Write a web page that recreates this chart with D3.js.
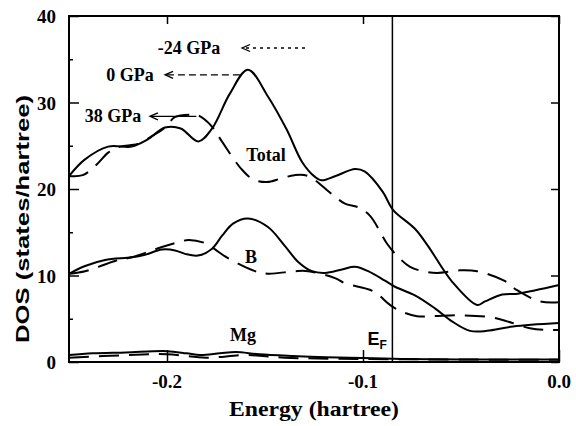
<!DOCTYPE html>
<html>
<head>
<meta charset="utf-8">
<script src="https://cdn.jsdelivr.net/npm/d3@7"></script>
<style>
  html, body { margin: 0; padding: 0; background: #fff; }
  svg { display: block; }
  .tick-label { font-family: "Liberation Serif", serif; font-weight: bold; font-size: 19px; }
  .xtitle { font-family: "Liberation Serif", serif; font-weight: bold; font-size: 20px; }
  .note { font-family: "Liberation Serif", serif; font-weight: bold; font-size: 18px; }
  .ytitle { font-family: "Liberation Sans", Arial, sans-serif; font-weight: bold; font-size: 19px; }
</style>
</head>
<body>
<svg id="chart" width="576" height="426"></svg>
<script>
// Density of states of MgB2 near the Fermi level (energy in hartree)
const totalSolid = [[-0.25,21.5],[-0.242,23.4],[-0.23,24.9],[-0.218,24.9],[-0.21,25.7],[-0.201,27.1],[-0.193,27.0],[-0.184,25.5],[-0.177,27.0],[-0.168,31.0],[-0.1587,33.8],[-0.1485,30.7],[-0.139,26.9],[-0.131,23.1],[-0.1245,21.4],[-0.121,21.0],[-0.114,21.5],[-0.104,22.3],[-0.099,22.0],[-0.090,19.7],[-0.0847,17.6],[-0.0735,15.4],[-0.0668,13.4],[-0.0546,9.3],[-0.0418,6.6],[-0.0378,7.0],[-0.029,7.8],[-0.021,7.9],[-0.012,8.3],[0,8.9]];
const totalDashed = [[-0.25,21.5],[-0.243,21.6],[-0.236,22.8],[-0.23,24.2],[-0.224,24.9],[-0.215,25.2],[-0.207,26.2],[-0.201,27.1],[-0.196,28.3],[-0.188,28.6],[-0.184,28.5],[-0.177,27.2],[-0.172,25.5],[-0.162,22.3],[-0.156,21.1],[-0.149,20.8],[-0.142,21.2],[-0.135,21.6],[-0.128,21.5],[-0.1158,19.4],[-0.1092,18.3],[-0.1026,17.9],[-0.0964,16.9],[-0.0878,13.7],[-0.0827,12.3],[-0.076,11.0],[-0.0694,10.5],[-0.0622,10.3],[-0.0505,10.6],[-0.0418,10.5],[-0.028,9.4],[-0.0214,8.3],[-0.0097,7.0],[0,6.9]];
const bSolid = [[-0.25,10.2],[-0.2418,11.1],[-0.2316,11.8],[-0.2179,12.1],[-0.2112,12.4],[-0.2026,13.0],[-0.1959,12.9],[-0.1908,12.5],[-0.1842,12.3],[-0.177,13.1],[-0.1719,14.6],[-0.1663,16.0],[-0.1587,16.6],[-0.1485,15.6],[-0.1398,13.4],[-0.1332,11.6],[-0.126,10.5],[-0.1194,10.3],[-0.1107,10.7],[-0.1041,11.0],[-0.0974,10.5],[-0.0888,9.4],[-0.0837,8.7],[-0.0735,7.7],[-0.0633,6.2],[-0.0546,4.7],[-0.0454,3.6],[-0.0367,3.6],[-0.0235,4.1],[0,4.5]];
const bDashed = [[-0.25,10.2],[-0.2418,10.5],[-0.235,11.0],[-0.225,11.8],[-0.218,12.1],[-0.2026,13.3],[-0.195,13.8],[-0.189,14.1],[-0.18,13.7],[-0.176,13.1],[-0.1689,12.0],[-0.1551,10.5],[-0.1485,10.2],[-0.1347,10.5],[-0.128,10.5],[-0.1143,9.7],[-0.1092,9.1],[-0.0949,8.2],[-0.0862,6.6],[-0.0811,5.9],[-0.0724,5.3],[-0.0643,5.3],[-0.052,5.4],[-0.0352,5.2],[-0.0265,4.7],[-0.0148,3.9],[-0.0061,3.7],[0,3.7]];
const mgSolid = [[-0.25,0.8],[-0.238,1.0],[-0.221,1.1],[-0.2,1.25],[-0.19,1.0],[-0.183,0.8],[-0.173,1.0],[-0.165,1.15],[-0.153,0.9],[-0.136,0.7],[-0.119,0.55],[-0.1,0.45],[-0.08,0.35],[-0.05,0.3],[0,0.3]];
const mgDashed = [[-0.25,0.5],[-0.22,0.8],[-0.2,0.9],[-0.18,0.5],[-0.16,0.8],[-0.14,0.5],[-0.1,0.35],[0,0.25]];
const fermiEnergy = -0.085;
const xTicks = [-0.2, -0.1, 0.0];
const xTickLabels = ["-0.2", "-0.1", "0.0"];
const yTicks = [0, 10, 20, 30, 40];
const yTickLabels = ["0", "10", "20", "30", "40"];
const curveLabels = [
  { text: "Total", e: -0.1495, v: 23.2 },
  { text: "B", e: -0.1571, v: 11.4 },
  { text: "Mg", e: -0.1612, v: 2.4 }
];
const pressureLabels = [
  { text: "-24 GPa", e: -0.1888, v: 36.3, from: -0.1296, to: -0.1617, dash: "3,4" },
  { text: "0 GPa", e: -0.2189, v: 33.2, from: -0.1628, to: -0.201, dash: "7,4" },
  { text: "38 GPa", e: -0.2276, v: 28.4, from: -0.185, to: -0.2087, dash: null }
];

const svg = d3.select("#chart");
const margin = { left: 69, right: 17, top: 16, bottom: 64 };
const W = 576, H = 426;
const x = d3.scaleLinear().domain([-0.25, 0]).range([margin.left, W - margin.right]);
const y = d3.scaleLinear().domain([0, 40]).range([H - margin.bottom, margin.top]);

const line = d3.line().x(d => x(d[0])).y(d => y(d[1])).curve(d3.curveCatmullRom.alpha(0.5));

// frame
svg.append("rect")
  .attr("x", x(-0.25)).attr("y", y(40))
  .attr("width", x(0) - x(-0.25)).attr("height", y(0) - y(40))
  .attr("fill", "none").attr("stroke", "#000").attr("stroke-width", 2);

// axes with inward ticks
const axB = d3.axisBottom(x).tickValues(xTicks).tickSize(-12).tickFormat(() => "");
const axT = d3.axisTop(x).tickValues(xTicks).tickSize(-8).tickFormat(() => "");
const axL = d3.axisLeft(y).tickValues(yTicks).tickSize(-10).tickFormat(() => "");
const axR = d3.axisRight(y).tickValues(yTicks).tickSize(-8).tickFormat(() => "");
const axLm = d3.axisLeft(y).tickValues(d3.range(0, 41, 5).filter(v => v % 10)).tickSize(-4).tickFormat(() => "");
[[axB, `translate(0,${y(0)})`], [axT, `translate(0,${y(40)})`], [axL, `translate(${x(-0.25)},0)`],
 [axR, `translate(${x(0)},0)`], [axLm, `translate(${x(-0.25)},0)`]].forEach(([ax, t]) => {
  const g = svg.append("g").attr("transform", t).call(ax);
  g.select(".domain").remove();
  g.selectAll("line").attr("stroke", "#000").attr("stroke-width", 1.5);
});

// tick labels
svg.append("g").selectAll("text").data(xTicks).join("text")
  .attr("class", "tick-label").attr("x", d => x(d)).attr("y", y(0) + 26)
  .attr("text-anchor", "middle").text((d, i) => xTickLabels[i]);
svg.append("g").selectAll("text").data(yTicks).join("text")
  .attr("class", "tick-label").attr("x", x(-0.25) - 13).attr("y", d => y(d) + 7)
  .attr("text-anchor", "end").text((d, i) => yTickLabels[i]);

// axis titles
svg.append("text").attr("class", "xtitle").attr("x", 314).attr("y", 416)
  .attr("text-anchor", "middle")
  .attr("textLength", 170).attr("lengthAdjust", "spacingAndGlyphs")
  .text("Energy  (hartree)");
svg.append("text").attr("class", "ytitle")
  .attr("transform", `translate(29,${219}) rotate(-90)`)
  .attr("text-anchor", "middle")
  .attr("textLength", 248).attr("lengthAdjust", "spacingAndGlyphs")
  .text("DOS  (states/hartree)");

// Fermi level
svg.append("line").attr("x1", x(fermiEnergy)).attr("x2", x(fermiEnergy))
  .attr("y1", y(40)).attr("y2", y(0)).attr("stroke", "#000").attr("stroke-width", 1.5);
const ef = svg.append("text").attr("x", x(fermiEnergy) - 25).attr("y", y(0) - 17)
  .attr("font-family", "Liberation Sans, Arial, sans-serif").attr("font-weight", "bold").attr("font-size", 18);
ef.append("tspan").text("E");
ef.append("tspan").attr("font-size", 12).attr("dy", 4).text("F");

// curves
const series = [
  [totalSolid, null], [totalDashed, "20,10"],
  [bSolid, null], [bDashed, "20,10"],
  [mgSolid, null], [mgDashed, "20,10"]
];
svg.append("g").selectAll("path").data(series).join("path")
  .attr("d", d => line(d[0]))
  .attr("fill", "none").attr("stroke", "#000").attr("stroke-width", 2)
  .attr("stroke-dasharray", d => d[1]);

// curve labels
svg.append("g").selectAll("text").data(curveLabels).join("text")
  .attr("class", "note").attr("x", d => x(d.e)).attr("y", d => y(d.v))
  .attr("text-anchor", "middle").text(d => d.text);

// pressure labels with arrows
const pg = svg.append("g");
pressureLabels.forEach(p => {
  pg.append("text").attr("class", "note").attr("x", x(p.e)).attr("y", y(p.v) + 6)
    .attr("text-anchor", "middle").text(p.text);
  const yy = y(p.v);
  pg.append("line").attr("x1", x(p.from)).attr("x2", x(p.to)).attr("y1", yy).attr("y2", yy)
    .attr("stroke", "#000").attr("stroke-width", 1.3).attr("stroke-dasharray", p.dash);
  const tx = x(p.to);
  pg.append("path").attr("d", `M${tx + 8},${yy - 3.5}L${tx},${yy}L${tx + 8},${yy + 3.5}`)
    .attr("fill", "none").attr("stroke", "#000").attr("stroke-width", 1.3);
});
</script>
</body>
</html>
